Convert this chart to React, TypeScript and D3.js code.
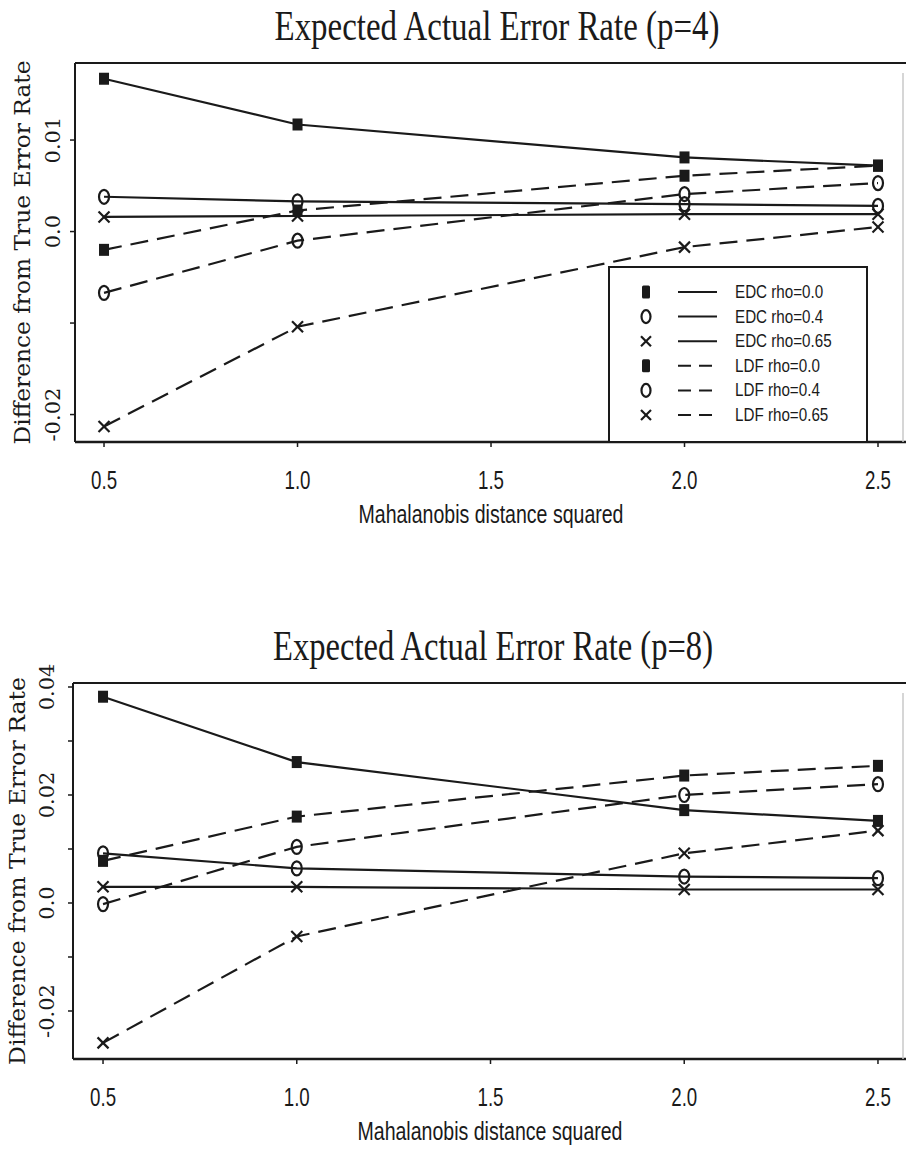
import React from "react";
import * as d3 from "d3";

// ---------- data ----------
const xValues = [0.5, 1.0, 2.0, 2.5];
const xTicks = [0.5, 1.0, 1.5, 2.0, 2.5];
const xTickLabels = ["0.5", "1.0", "1.5", "2.0", "2.5"];

const seriesNames = [
  "EDC rho=0.0",
  "EDC rho=0.4",
  "EDC rho=0.65",
  "LDF rho=0.0",
  "LDF rho=0.4",
  "LDF rho=0.65",
];
const seriesMarkers = ["square", "circle", "cross", "square", "circle", "cross"];
const seriesDashed = [false, false, false, true, true, true];

// p = 4
const p4EdcRho00 = [0.0167, 0.0117, 0.0081, 0.0072];
const p4EdcRho04 = [0.0038, 0.0033, 0.0030, 0.0028];
const p4EdcRho065 = [0.0016, 0.0017, 0.0019, 0.0019];
const p4LdfRho00 = [-0.002, 0.0023, 0.0061, 0.0072];
const p4LdfRho04 = [-0.0067, -0.001, 0.0041, 0.0053];
const p4LdfRho065 = [-0.0213, -0.0104, -0.0017, 0.0005];

// p = 8
const p8EdcRho00 = [0.0382, 0.0261, 0.0172, 0.0152];
const p8EdcRho04 = [0.0092, 0.0064, 0.0049, 0.0046];
const p8EdcRho065 = [0.003, 0.003, 0.0025, 0.0025];
const p8LdfRho00 = [0.0078, 0.016, 0.0236, 0.0254];
const p8LdfRho04 = [-0.0002, 0.0104, 0.02, 0.022];
const p8LdfRho065 = [-0.0259, -0.0062, 0.0092, 0.0134];

const p4YTicks = [0.01, 0.0, -0.01, -0.02];
const p4YTickLabels = ["0.01", "0.0", "", "-0.02"];
const p8YTicks = [0.04, 0.03, 0.02, 0.01, 0.0, -0.01, -0.02];
const p8YTickLabels = ["0.04", "", "0.02", "", "0.0", "", "-0.02"];

const p4Title = "Expected Actual Error Rate (p=4)";
const p8Title = "Expected Actual Error Rate (p=8)";
const xAxisTitle = "Mahalanobis distance squared";
const yAxisTitle = "Difference from True Error Rate";

// ---------- drawing ----------
const INK = "#1a1a1a";

function Marker({ kind, x, y, legend = false }) {
  if (kind === "square") {
    const w = legend ? 8 : 10;
    const h = legend ? 13 : 12;
    return <rect x={x - w / 2} y={y - h / 2} width={w} height={h} rx={legend ? 1.5 : 0} fill={INK} />;
  }
  if (kind === "circle") {
    return <ellipse cx={x} cy={y} rx={legend ? 4.5 : 5} ry={legend ? 6.5 : 7} fill="none" stroke={INK} strokeWidth={2.2} />;
  }
  const s = legend ? 5 : 5.5;
  return (
    <g stroke={INK} strokeWidth={2.2}>
      <line x1={x - s} y1={y - s} x2={x + s} y2={y + s} />
      <line x1={x - s} y1={y + s} x2={x + s} y2={y - s} />
    </g>
  );
}

function Chart({ cfg }) {
  const { frame, xDomain, yDomain, series, yTicks, yTickLabels, title } = cfg;
  const x = d3.scaleLinear().domain(xDomain).range([frame.left, frame.right]);
  const y = d3.scaleLinear().domain(yDomain).range([frame.bottom, frame.top]);
  const line = d3
    .line<number>()
    .x((_, i) => x(xValues[i]))
    .y((d) => y(d));

  return (
    <g>
      {/* title */}
      <text
        x={cfg.titleX}
        y={cfg.titleY}
        textAnchor="middle"
        fontFamily="'Liberation Serif', 'Times New Roman', serif"
        fontSize={42}
        textLength={cfg.titleLen}
        lengthAdjust="spacingAndGlyphs"
        fill={INK}
      >
        {title}
      </text>

      {/* frame */}
      <line x1={frame.left} y1={frame.top} x2={906} y2={frame.top} stroke={INK} strokeWidth={2} />
      <line x1={frame.left} y1={frame.bottom} x2={906} y2={frame.bottom} stroke={INK} strokeWidth={2.4} />
      <line x1={frame.left} y1={frame.top} x2={frame.left} y2={frame.bottom} stroke={INK} strokeWidth={2} />
      <line x1={frame.right} y1={frame.top + 10} x2={frame.right} y2={frame.bottom} stroke="#c8c8c8" strokeWidth={1.5} />

      {/* y ticks */}
      {yTicks.map((t, i) => (
        <g key={"yt" + i}>
          <line x1={frame.left - 5} x2={frame.left} y1={y(t)} y2={y(t)} stroke={INK} strokeWidth={1.5} />
          {yTickLabels[i] && (
            <text
              transform={`translate(${cfg.yTickBase},${y(t)}) rotate(-90)`}
              textAnchor="middle"
              fontFamily="'DejaVu Serif', serif"
              fontSize={21}
              fill={INK}
            >
              {yTickLabels[i]}
            </text>
          )}
        </g>
      ))}

      {/* y title */}
      <text
        transform={`translate(${cfg.yTitleBase},${(frame.top + frame.bottom) / 2}) rotate(-90)`}
        textAnchor="middle"
        fontFamily="'DejaVu Serif', serif"
        fontSize={22}
        textLength={cfg.yTitleLen}
        lengthAdjust="spacingAndGlyphs"
        fill={INK}
      >
        {yAxisTitle}
      </text>

      {/* x ticks */}
      {xTicks.map((t, i) => (
        <g key={"xt" + i}>
          <line x1={x(t)} x2={x(t)} y1={frame.bottom} y2={frame.bottom + 5} stroke={INK} strokeWidth={1.5} />
          <text
            transform={`translate(${x(t)},${frame.bottom + 47}) scale(0.72,1)`}
            textAnchor="middle"
            fontFamily="'Liberation Sans', Arial, sans-serif"
            fontSize={26}
            fill={INK}
          >
            {xTickLabels[i]}
          </text>
        </g>
      ))}

      {/* x title */}
      <text
        x={(frame.left + frame.right) / 2 + 2}
        y={frame.bottom + 81}
        textAnchor="middle"
        fontFamily="'Liberation Sans', Arial, sans-serif"
        fontSize={25}
        textLength={265}
        lengthAdjust="spacingAndGlyphs"
        fill={INK}
      >
        {xAxisTitle}
      </text>

      {/* lines */}
      {series.map((vals, si) => (
        <path
          key={"l" + si}
          d={line(vals) || ""}
          fill="none"
          stroke={INK}
          strokeWidth={2.2}
          strokeDasharray={seriesDashed[si] ? "18,9" : undefined}
        />
      ))}
      {/* markers */}
      {series.map((vals, si) =>
        vals.map((v, i) => <Marker key={"m" + si + "-" + i} kind={seriesMarkers[si]} x={x(xValues[i])} y={y(v)} />)
      )}

      {cfg.legend && <Legend box={cfg.legend} />}
    </g>
  );
}

function Legend({ box }) {
  const rowY = d3.scaleLinear().domain([0, seriesNames.length - 1]).range([box.top + 25, box.top + 148]);
  return (
    <g>
      <rect x={box.left} y={box.top} width={box.right - box.left} height={box.bottom - box.top} fill="#fff" stroke={INK} strokeWidth={2} />
      {seriesNames.map((name, i) => (
        <g key={"lg" + i}>
          <Marker kind={seriesMarkers[i]} x={box.left + 37} y={rowY(i)} legend />
          <line
            x1={box.left + 69}
            x2={box.left + 108}
            y1={rowY(i)}
            y2={rowY(i)}
            stroke={INK}
            strokeWidth={2}
            strokeDasharray={seriesDashed[i] ? "13,8" : undefined}
          />
          <text
            transform={`translate(${box.left + 126},${rowY(i) + 6}) scale(0.8,1)`}
            fontFamily="'Liberation Sans', Arial, sans-serif"
            fontSize={19}
            fill={INK}
          >
            {name}
          </text>
        </g>
      ))}
    </g>
  );
}

const chartP4 = {
  title: p4Title,
  titleX: 497,
  titleY: 40,
  titleLen: 445,
  frame: { left: 75, top: 63, right: 903, bottom: 442 },
  xDomain: [0.425, 2.5646],
  yDomain: [-0.023, 0.01842],
  yTicks: p4YTicks,
  yTickLabels: p4YTickLabels,
  yTickBase: 60,
  yTitleBase: 30,
  yTitleLen: 384,
  series: [p4EdcRho00, p4EdcRho04, p4EdcRho065, p4LdfRho00, p4LdfRho04, p4LdfRho065],
  legend: { left: 609, top: 267, right: 867, bottom: 442 },
};

const chartP8 = {
  title: p8Title,
  titleX: 493,
  titleY: 660,
  titleLen: 440,
  frame: { left: 73, top: 683, right: 903, bottom: 1059 },
  xDomain: [0.4225, 2.5646],
  yDomain: [-0.02889, 0.04074],
  yTicks: p8YTicks,
  yTickLabels: p8YTickLabels,
  yTickBase: 54,
  yTitleBase: 25,
  yTitleLen: 388,
  series: [p8EdcRho00, p8EdcRho04, p8EdcRho065, p8LdfRho00, p8LdfRho04, p8LdfRho065],
  legend: null,
};

export default function App() {
  return (
    <svg
      width={906}
      height={1150}
      viewBox="0 0 906 1150"
      style={{ position: "absolute", left: 0, top: 0, background: "#fff" }}
    >
      <rect x={0} y={0} width={906} height={1150} fill="#fff" />
      <Chart cfg={chartP4} />
      <Chart cfg={chartP8} />
    </svg>
  );
}
